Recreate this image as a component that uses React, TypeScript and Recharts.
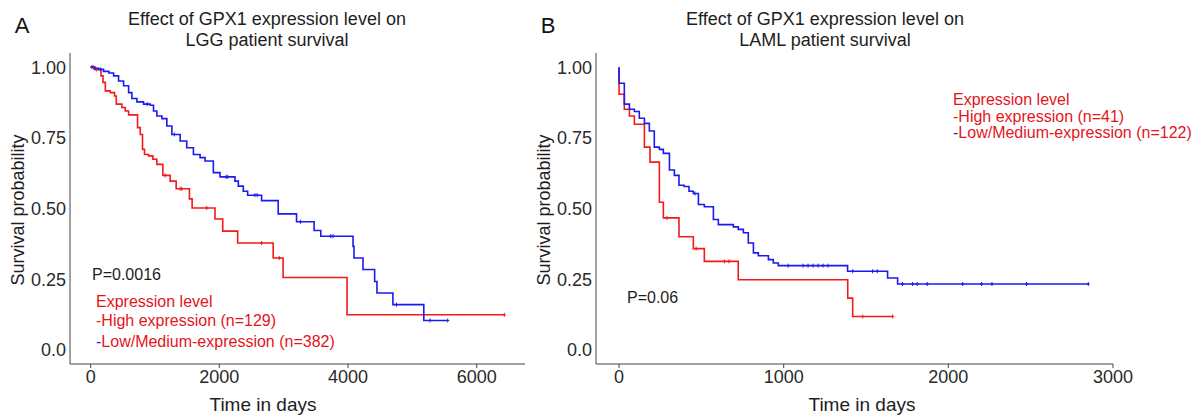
import React from 'react'
import { ComposedChart, Line, Scatter, XAxis, YAxis } from 'recharts'

// LGG panel (A): Kaplan-Meier steps, time in days / survival probability
const lggHighTime = [0, 60, 161, 192, 228, 305, 372, 398, 486, 538, 590, 729, 771, 806, 837, 900, 967, 1029, 1122, 1236, 1329, 1535, 1577, 1933, 2053, 2285, 2837, 2991, 3985, 6430]
const lggHighSurv = [1, 0.992, 0.969, 0.946, 0.916, 0.91, 0.898, 0.869, 0.857, 0.845, 0.831, 0.786, 0.762, 0.709, 0.691, 0.686, 0.674, 0.656, 0.617, 0.597, 0.57, 0.534, 0.502, 0.463, 0.42, 0.378, 0.325, 0.256, 0.124, 0.124]
const lggHighCensor = [40, 90, 1158, 1391, 1417, 1804, 2657, 2931, 6430]

const lggLowTime = [0, 50, 120, 200, 284, 357, 434, 512, 590, 641, 719, 822, 926, 977, 1029, 1107, 1184, 1262, 1391, 1494, 1597, 1701, 1778, 1907, 2011, 2243, 2295, 2372, 2440, 2657, 2915, 3200, 3473, 3577, 4078, 4093, 4233, 4414, 4450, 4698, 5178, 5550]
const lggLowSurv = [1, 0.996, 0.992, 0.985, 0.979, 0.969, 0.951, 0.934, 0.91, 0.889, 0.877, 0.869, 0.865, 0.845, 0.827, 0.818, 0.792, 0.762, 0.739, 0.715, 0.691, 0.68, 0.668, 0.627, 0.612, 0.597, 0.579, 0.561, 0.547, 0.528, 0.481, 0.453, 0.422, 0.402, 0.366, 0.325, 0.284, 0.242, 0.201, 0.16, 0.104, 0.104]
const lggLowCensor = [20, 70, 150, 880, 1300, 2104, 2130, 2553, 2589, 3262, 3732, 3767, 4753, 5275, 5550]

// LAML panel (B)
const lamlHighTime = [0, 0, 32, 63, 93, 154, 188, 245, 269, 364, 451, 518, 724, 1389, 1419, 1662]
const lamlHighSurv = [1, 0.904, 0.851, 0.827, 0.798, 0.717, 0.664, 0.522, 0.467, 0.4, 0.358, 0.313, 0.248, 0.183, 0.118, 0.118]
const lamlHighCensor = [291, 468, 640, 668, 1480, 1662]

const lamlLowTime = [0, 0, 32, 63, 93, 123, 154, 184, 214, 245, 269, 306, 336, 364, 395, 425, 451, 482, 518, 573, 603, 694, 724, 755, 785, 816, 846, 907, 937, 967, 1388, 1631, 1692, 2850]
const lamlLowSurv = [1, 0.943, 0.869, 0.851, 0.843, 0.819, 0.801, 0.774, 0.717, 0.709, 0.695, 0.636, 0.617, 0.582, 0.578, 0.561, 0.553, 0.514, 0.506, 0.461, 0.443, 0.435, 0.426, 0.414, 0.378, 0.343, 0.333, 0.319, 0.307, 0.298, 0.278, 0.254, 0.233, 0.233]
const lamlLowCensor = [461, 1027, 1118, 1148, 1178, 1209, 1239, 1269, 1419, 1540, 1568, 1722, 1783, 1811, 1872, 2087, 2202, 2265, 2475, 2850]

const yTicks = [0, 0.25, 0.5, 0.75, 1]
const lggXTicks = [0, 2000, 4000, 6000]
const lamlXTicks = [0, 1000, 2000, 3000]

const RED = '#f21a1a'
const BLUE = '#1a1af2'
const LABEL_RED = '#e3151b'
const FONT = '"Liberation Sans", Arial, Helvetica, sans-serif'

type Pt = { t: number; s: number }

const toRows = (times: number[], surv: number[]): Pt[] => times.map((t, i) => ({ t, s: surv[i] }))

const censorRows = (times: number[], surv: number[], censor: number[]): Pt[] =>
  censor.map((c) => {
    let s = surv[0]
    for (let i = 0; i < times.length; i++) if (times[i] <= c) s = surv[i]
    return { t: c, s }
  })

const plusMark = (color: string) => (props: any) => {
  const { cx, cy } = props
  return (
    <g stroke={color} strokeWidth={1}>
      <line x1={cx} x2={cx} y1={cy - 2} y2={cy + 2} />
      <line x1={cx - 1.5} x2={cx + 1.5} y1={cy} y2={cy} />
    </g>
  )
}

type PanelProps = {
  left: number
  width: number
  yWidth: number
  right: number
  xDomain: [number, number]
  xTicks: number[]
  high: Pt[]
  low: Pt[]
  highCensor: Pt[]
  lowCensor: Pt[]
}

function KmPanel(p: PanelProps) {
  return (
    <div style={{ position: 'absolute', left: p.left, top: 0 }}>
      <ComposedChart width={p.width} height={415} margin={{ top: 53, right: p.right, bottom: 21, left: 0 }}>
        <XAxis
          type="number"
          dataKey="t"
          domain={p.xDomain}
          ticks={p.xTicks}
          interval={0}
          allowDataOverflow
          height={30}
          tick={{ fill: '#2a2a2a', fontSize: 18, fontFamily: FONT }}
          axisLine={{ stroke: '#444' }}
          tickLine={{ stroke: '#444' }}
          tickSize={4}
          tickMargin={2}
        />
        <YAxis
          type="number"
          domain={[-0.05, 1.05]}
          ticks={yTicks}
          interval={0}
          allowDataOverflow
          width={p.yWidth}
          tick={{ fill: '#2a2a2a', fontSize: 18, fontFamily: FONT }}
          axisLine={{ stroke: '#444' }}
          tickLine={false}
          tickSize={2}
          tickMargin={2}
          tickFormatter={(v: number) => (v === 0 ? '0.0' : v.toFixed(2))}
        />
        <Line data={p.high} dataKey="s" type="stepAfter" stroke={RED} strokeWidth={1.6} dot={false} isAnimationActive={false} />
        <Line data={p.low} dataKey="s" type="stepAfter" stroke={BLUE} strokeWidth={1.6} dot={false} isAnimationActive={false} />
        <Scatter data={p.highCensor} dataKey="s" fill={RED} shape={plusMark(RED)} isAnimationActive={false} />
        <Scatter data={p.lowCensor} dataKey="s" fill={BLUE} shape={plusMark(BLUE)} isAnimationActive={false} />
      </ComposedChart>
    </div>
  )
}

const centered = (x: number, y: number, size: number, extra: React.CSSProperties = {}): React.CSSProperties => ({
  position: 'absolute',
  left: x,
  top: y,
  transform: 'translate(-50%, -50%)',
  fontSize: size,
  lineHeight: 1,
  whiteSpace: 'nowrap',
  color: '#1e1e1e',
  ...extra
})

const leftAt = (x: number, y: number, size: number, color: string): React.CSSProperties => ({
  position: 'absolute',
  left: x,
  top: y,
  transform: 'translateY(-50%)',
  fontSize: size,
  lineHeight: 1,
  whiteSpace: 'nowrap',
  color
})

function Legend({ x, y, gap, high, low }: { x: number; y: number; gap: number[]; high: string; low: string }) {
  return (
    <>
      <div style={leftAt(x, y, 16, LABEL_RED)}>Expression level</div>
      <div style={leftAt(x, y + gap[0], 16, LABEL_RED)}>
        <span style={{ color: RED }}>-</span>
        {high}
      </div>
      <div style={leftAt(x, y + gap[1], 16, LABEL_RED)}>
        <span style={{ color: BLUE }}>-</span>
        {low}
      </div>
    </>
  )
}

export default function App() {
  return (
    <div style={{ position: 'absolute', left: 0, top: 0, width: 1195, height: 415, background: '#fff', fontFamily: FONT, overflow: 'hidden' }}>
      <KmPanel
        left={0}
        width={540}
        yWidth={70}
        right={15}
        xDomain={[-321, 6751]}
        xTicks={lggXTicks}
        high={toRows(lggHighTime, lggHighSurv)}
        low={toRows(lggLowTime, lggLowSurv)}
        highCensor={censorRows(lggHighTime, lggHighSurv, lggHighCensor)}
        lowCensor={censorRows(lggLowTime, lggLowSurv, lggLowCensor)}
      />
      <KmPanel
        left={540}
        width={620}
        yWidth={56}
        right={47}
        xDomain={[-140, 3000]}
        xTicks={lamlXTicks}
        high={toRows(lamlHighTime, lamlHighSurv)}
        low={toRows(lamlLowTime, lamlLowSurv)}
        highCensor={censorRows(lamlHighTime, lamlHighSurv, lamlHighCensor)}
        lowCensor={censorRows(lamlLowTime, lamlLowSurv, lamlLowCensor)}
      />

      <div style={centered(22, 26, 22, { color: '#111' })}>A</div>
      <div style={centered(548, 26, 22, { color: '#111' })}>B</div>

      <div style={centered(267, 19, 18)}>Effect of GPX1 expression level on</div>
      <div style={centered(267, 39.5, 18)}>LGG patient survival</div>
      <div style={centered(825, 19, 18)}>Effect of GPX1 expression level on</div>
      <div style={centered(825, 39.5, 18)}>LAML patient survival</div>

      <div style={centered(18, 210, 18, { transform: 'translate(-50%, -50%) rotate(-90deg)' })}>Survival probability</div>
      <div style={centered(544, 210, 18, { transform: 'translate(-50%, -50%) rotate(-90deg)' })}>Survival probability</div>
      <div style={centered(263, 404, 19)}>Time in days</div>
      <div style={centered(862, 404, 19)}>Time in days</div>

      <div style={leftAt(92, 275, 16, '#1e1e1e')}>P=0.0016</div>
      <div style={leftAt(627, 297.5, 16, '#1e1e1e')}>P=0.06</div>

      <Legend x={96} y={302} gap={[19, 40]} high="High expression (n=129)" low="Low/Medium-expression (n=382)" />
      <Legend x={953} y={100} gap={[17, 32.5]} high="High expression (n=41)" low="Low/Medium-expression (n=122)" />
    </div>
  )
}
